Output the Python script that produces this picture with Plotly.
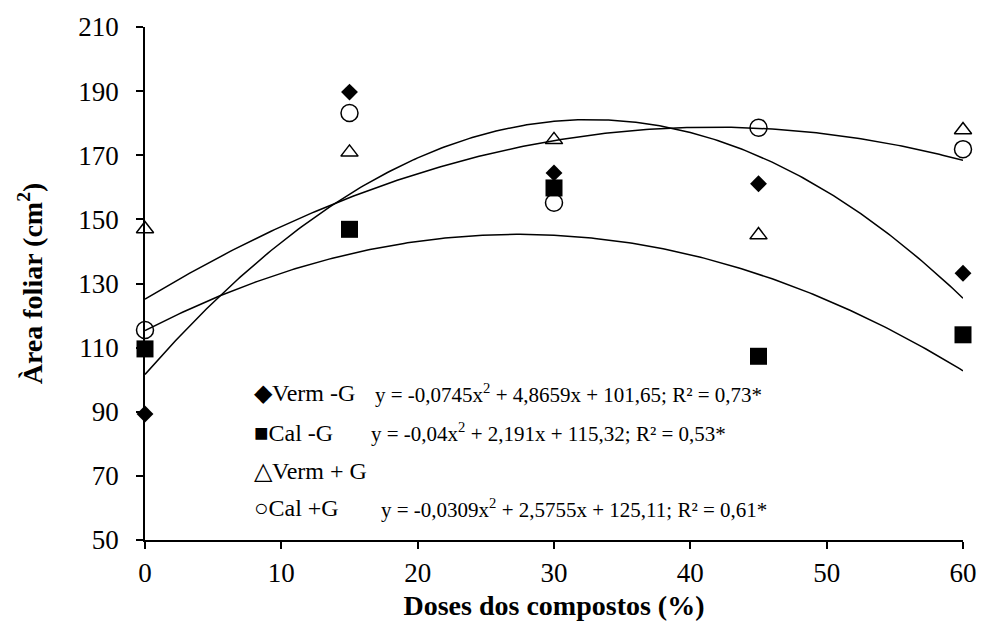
import numpy as np
import plotly.graph_objects as go

# ---- data ----
doses = [0, 15, 30, 45, 60]
verm_sem_g = [89.3, 189.7, 164.5, 161.1, 133.2]   # Verm -G
cal_sem_g = [109.6, 146.9, 159.8, 107.3, 114.0]   # Cal -G
verm_com_g = [147.0, 170.9, 174.8, 145.1, 177.9]  # Verm + G
cal_com_g = [115.5, 183.2, 155.2, 178.6, 171.9]   # Cal +G

# printed regression coefficients (a, b, c) for y = a x^2 + b x + c
coef_verm_sem_g = [-0.0745, 4.8659, 101.65]
coef_cal_sem_g = [-0.04, 2.191, 115.32]
coef_cal_com_g = [-0.0309, 2.5755, 125.11]

x_ticks = [0, 10, 20, 30, 40, 50, 60]
y_ticks = [50, 70, 90, 110, 130, 150, 170, 190, 210]

legend_labels = ["\u25C6Verm -G", "\u25A0Cal -G", "\u25B3Verm + G", "\u25CBCal +G"]
equations = [
    "y = -0,0745x<sup>2</sup> + 4,8659x + 101,65; R\u00b2 = 0,73*",
    "y = -0,04x<sup>2</sup> + 2,191x + 115,32; R\u00b2 = 0,53*",
    "y = -0,0309x<sup>2</sup> + 2,5755x + 125,11; R\u00b2 = 0,61*",
]

FONT = "Liberation Serif, Times New Roman, serif"

fig = go.Figure()

xs = np.linspace(0, 60, 241)
for coef in (coef_verm_sem_g, coef_cal_sem_g, coef_cal_com_g):
    ys = np.polyval(coef, xs)
    fig.add_trace(go.Scatter(x=xs, y=ys, mode="lines",
                             line=dict(color="black", width=1.5),
                             showlegend=False, hoverinfo="skip"))

fig.add_trace(go.Scatter(x=doses, y=verm_sem_g, mode="markers", name="Verm -G",
                         marker=dict(symbol="diamond", size=13, color="black"),
                         cliponaxis=False, showlegend=False))
fig.add_trace(go.Scatter(x=doses, y=cal_sem_g, mode="markers", name="Cal -G",
                         marker=dict(symbol="square", size=17, color="black"),
                         cliponaxis=False, showlegend=False))
fig.add_trace(go.Scatter(x=doses, y=verm_com_g, mode="markers", name="Verm + G",
                         marker=dict(symbol="triangle-up-open", size=15, color="black",
                                     line=dict(width=1.5, color="black")),
                         cliponaxis=False, showlegend=False))
fig.add_trace(go.Scatter(x=doses, y=cal_com_g, mode="markers", name="Cal +G",
                         marker=dict(symbol="circle-open", size=17, color="black",
                                     line=dict(width=1.5, color="black")),
                         cliponaxis=False, showlegend=False))

L, R, T, B = 145, 16, 23, 88
W, H = 989, 628
pw, ph = W - L - R, H - T - B

def px(xp):
    return (xp - L) / pw

def py(yp):
    return (H - B - yp) / ph

ann = []
label_rows = [392, 432, 470, 508]
for lab, yr in zip(legend_labels, label_rows):
    ann.append(dict(x=px(253), y=py(yr), xref="paper", yref="paper", text=lab,
                    showarrow=False, xanchor="left", yanchor="middle",
                    font=dict(family=FONT, size=24, color="black")))
eq_pos = [(376, 392), (372, 432), (382, 508)]
for eq, (ex, ey) in zip(equations, eq_pos):
    ann.append(dict(x=px(ex), y=py(ey), xref="paper", yref="paper", text=eq,
                    showarrow=False, xanchor="left", yanchor="middle",
                    font=dict(family=FONT, size=21, color="black")))

fig.update_layout(
    width=W, height=H,
    margin=dict(l=L, r=R, t=T, b=B),
    paper_bgcolor="white", plot_bgcolor="white",
    font=dict(family=FONT, size=27, color="black"),
    annotations=ann,
)
fig.update_xaxes(range=[0, 60], tickvals=x_ticks, showgrid=False, zeroline=False,
                 showline=True, linecolor="black", linewidth=1.5,
                 ticks="outside", ticklen=7, tickwidth=1.5, tickcolor="black",
                 tickfont=dict(family=FONT, size=27), ticklabelstandoff=1,
                 title=dict(text="<b>Doses dos compostos (%)</b>", standoff=8,
                            font=dict(family=FONT, size=28)))
fig.update_yaxes(range=[50, 210], tickvals=y_ticks, showgrid=False, zeroline=False,
                 showline=True, linecolor="black", linewidth=1.5,
                 ticks="outside", ticklen=7, tickwidth=1.5, tickcolor="black",
                 tickfont=dict(family=FONT, size=27), ticklabelstandoff=12,
                 title=dict(text="<b>Àrea foliar (cm<sup>2</sup>)</b>", standoff=28,
                            font=dict(family=FONT, size=28)))

fig.write_html("out.html")
